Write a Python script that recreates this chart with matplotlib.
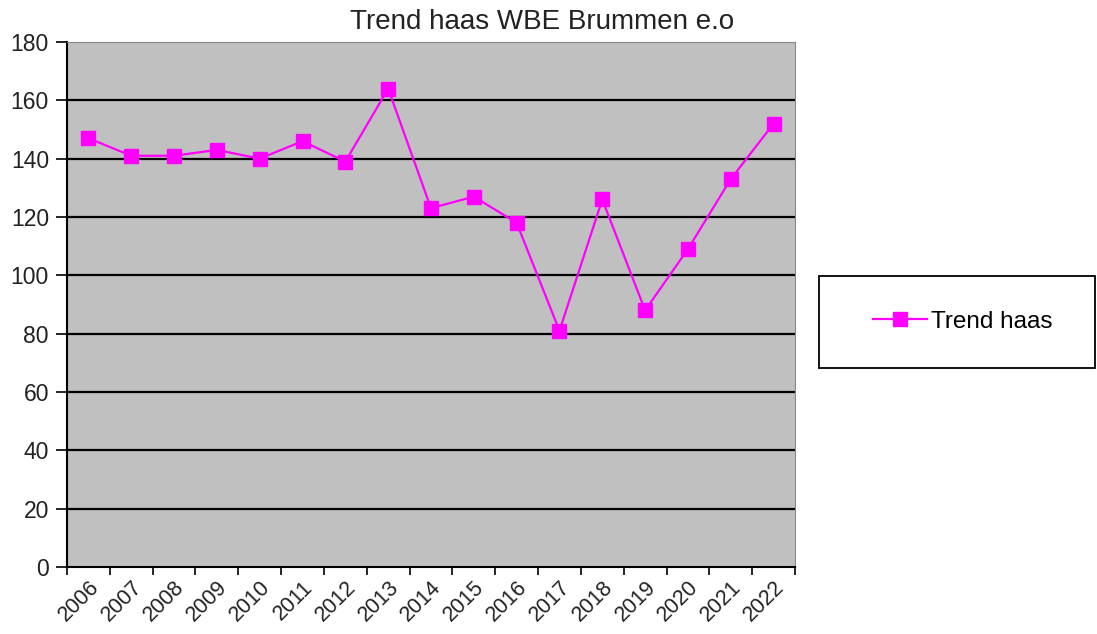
import matplotlib.pyplot as plt
from matplotlib.patches import Rectangle

years = ['2006', '2007', '2008', '2009', '2010', '2011', '2012', '2013', '2014',
         '2015', '2016', '2017', '2018', '2019', '2020', '2021', '2022']
haas = [147, 141, 141, 143, 140, 146, 139, 164, 123, 127, 118, 81, 126, 88, 109, 133, 152]
y_ticks = [0, 20, 40, 60, 80, 100, 120, 140, 160, 180]

plt.rcParams['font.family'] = ['Liberation Sans', 'DejaVu Sans']

W, H = 1097, 634
fig = plt.figure(figsize=(W / 100, H / 100), dpi=100)
ax = fig.add_axes([67 / W, 1 - 567 / H, (795 - 67) / W, (567 - 42) / H])
ax.set_facecolor('#c0c0c0')

n = len(years)
xs = [i + 0.5 for i in range(n)]
line, = ax.plot(xs, haas, color='#ff00ff', lw=1.6, marker='s', markersize=9.5,
                label='Trend haas', zorder=3)

ax.set_xlim(0, n)
ax.set_ylim(0, 180)
ax.set_yticks(y_ticks)
ax.set_yticklabels([str(v) for v in y_ticks], fontsize=16.5, color='#222222')
for v in y_ticks[1:-1]:
    ax.axhline(v, color='black', lw=1.6, zorder=1)

# ticks on the category boundaries, labels in the middle
ax.set_xticks(range(n + 1))
ax.set_xticklabels([])
ax.set_xticks(xs, minor=True)
ax.set_xticklabels(years, minor=True, rotation=45, ha='right', va='top',
                   rotation_mode='anchor', fontsize=15.5, color='#222222')
ax.tick_params(axis='x', which='minor', length=0, pad=7)
ax.tick_params(axis='x', which='major', direction='out', length=6, width=1.2, color='black')
ax.tick_params(axis='y', direction='out', length=8, width=1.2, color='black', pad=5)

ax.spines['left'].set_color('black')
ax.spines['bottom'].set_color('black')
ax.spines['left'].set_linewidth(1.5)
ax.spines['bottom'].set_linewidth(1.5)
ax.spines['top'].set_color('#888888')
ax.spines['right'].set_color('#888888')

fig.text(542 / W, 1 - 22 / H, 'Trend haas WBE Brummen e.o', ha='center', va='center',
         fontsize=20, color='#222222')

# legend box
fig.patches.append(Rectangle((819 / W, 1 - 368 / H), (1095 - 819) / W, (368 - 276) / H,
                             transform=fig.transFigure, fill=False, edgecolor='black', lw=1.3))
fig.legend(handles=[line], loc='center', bbox_to_anchor=(963 / W, 1 - 322 / H),
           frameon=False, fontsize=17.5, handlelength=2.2, handletextpad=0.2,
           markerscale=1.0)

fig.savefig('out.png', dpi=100)
